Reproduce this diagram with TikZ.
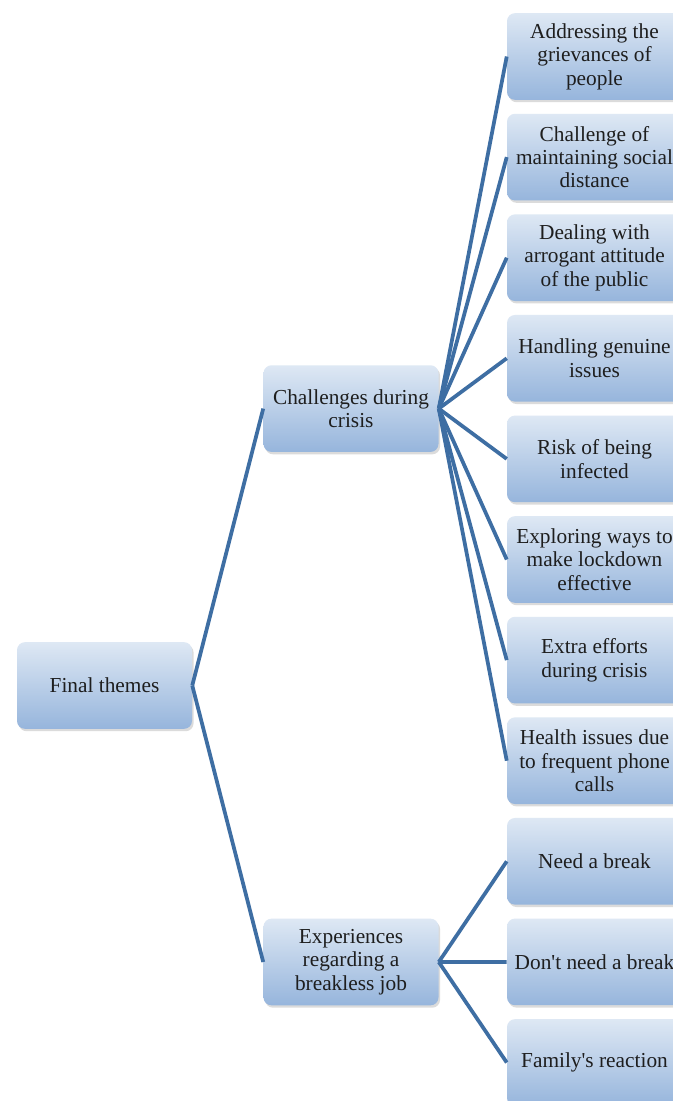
\documentclass[tikz,border=0pt]{standalone}
\usepackage{fontspec}
\setmainfont{Liberation Serif}
\usetikzlibrary{shadows}
\newcommand{\straightq}{\XeTeXglyph\XeTeXglyphindex "quotesingle"\relax}
\definecolor{boxtop}{RGB}{222,232,244}
\definecolor{boxbot}{RGB}{150,181,220}
\definecolor{linkblue}{RGB}{62,110,163}
\definecolor{txt}{RGB}{30,30,30}
\tikzset{
  themebox/.style={rectangle, rounded corners=6pt, top color=boxtop, bottom color=boxbot,
    minimum width=131.25pt, minimum height=65pt, inner sep=1pt, align=center,
    text=txt, font=\fontsize{16pt}{17.6pt}\selectfont,
    drop shadow={opacity=0.28, shadow xshift=1.2pt, shadow yshift=-1.8pt}},
  link/.style={draw=linkblue, line width=2.8pt}
}
\begin{document}
\begin{tikzpicture}[x=0.75pt, y=-0.75pt]
\useasboundingbox (0,0) rectangle (673,1101);
\clip (0,0) rectangle (673,1101);
\fill[white] (0,0) rectangle (673,1101);
% root and mid nodes
\node[themebox] (root) at (104.5,685.5) {Final themes};
\node[themebox] (chal) at (351,408.6) {Challenges during\\crisis};
\node[themebox] (exp) at (351,962) {Experiences\\regarding a\\breakless job};
% leaves
\node[themebox] (l1) at (594.5,56.5) {Addressing the\\grievances of\\people};
\node[themebox] (l2) at (594.5,157.1) {Challenge of\\maintaining social\\distance};
\node[themebox] (l3) at (594.5,257.7) {Dealing with\\arrogant attitude\\of the public};
\node[themebox] (l4) at (594.5,358.3) {Handling genuine\\issues};
\node[themebox] (l5) at (594.5,458.9) {Risk of being\\infected};
\node[themebox] (l6) at (594.5,559.5) {Exploring ways to\\make lockdown\\effective};
\node[themebox] (l7) at (594.5,660.1) {Extra efforts\\during crisis};
\node[themebox] (l8) at (594.5,760.7) {Health issues due\\to frequent phone\\calls};
\node[themebox] (l9) at (594.5,861.3) {Need a break};
\node[themebox] (l10) at (594.5,961.9) {Don\straightq t need a break};
\node[themebox] (l11) at (594.5,1062.5) {Family\straightq s reaction};
% connectors
\draw[link] (root.east) -- (chal.west);
\draw[link] (root.east) -- (exp.west);
\foreach \n in {l1,l2,l3,l4,l5,l6,l7,l8}
  \draw[link] (chal.east) -- (\n.west);
\foreach \n in {l9,l10,l11}
  \draw[link] (exp.east) -- (\n.west);
\end{tikzpicture}
\end{document}
